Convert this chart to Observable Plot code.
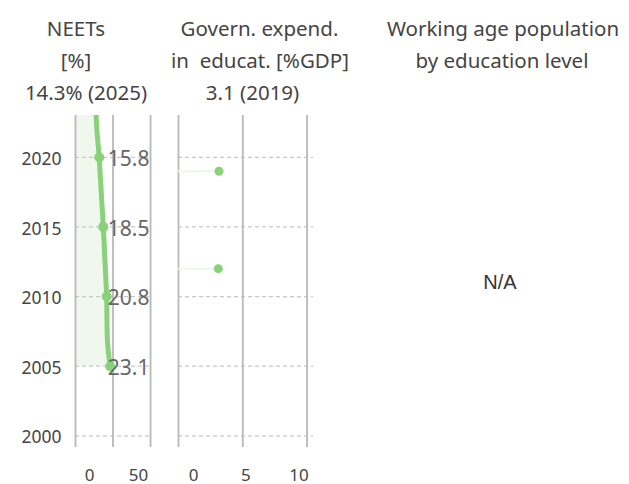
<!DOCTYPE html>
<html><head><meta charset="utf-8">
<script src="https://cdn.jsdelivr.net/npm/d3@7"></script>
<script src="https://cdn.jsdelivr.net/npm/@observablehq/plot@0.6"></script>
<style>
html,body{margin:0;padding:0;background:#fff;}
#wrap{position:relative;width:629px;height:484px;overflow:hidden;font-family:"Noto Sans",sans-serif;}
.panel{position:absolute;top:0;}
#titles{position:absolute;left:0;top:0;}
</style></head><body><div id="wrap"></div>
<script>
// ---- data ----
const neetYears  = [2005, 2006, 2007, 2008, 2009, 2010, 2011, 2012, 2013, 2014, 2015, 2016, 2017, 2018, 2019, 2020, 2021, 2022, 2023, 2024, 2025];
const neetValues = [23.1, 21.9, 21.2, 21.0, 20.9, 20.8, 20.3, 19.9, 19.4, 19.0, 18.5, 18.0, 17.4, 16.9, 16.3, 15.8, 15.0, 14.2, 13.8, 14.0, 14.3];
const neetLabelYears = [2005, 2010, 2015, 2020];
const expendYears  = [2012, 2019];
const expendValues = [3.1, 3.15];
const yearTicks = [2000, 2005, 2010, 2015, 2020];
const neetTicks = [0, 25, 50];
const neetTickLabels = [0, 50];
const expendTicks = [0, 5, 10];
const neetTitle = ["NEETs", "[%]", "14.3% (2025)"];
const expendTitle = ["Govern. expend.", "in  educat. [%GDP]", "3.1 (2019)"];
const popTitle = ["Working age population", "by education level"];
const naText = "N/A";

// ---- build ----
const green = "#88d27a";
const neet = neetYears.map((y, i) => ({year: y, value: neetValues[i]}));
const neetLabeled = neet.filter(d => neetLabelYears.includes(d.year));
const expend = expendYears.map((y, i) => ({year: y, value: expendValues[i]}));
const font = '"Noto Sans", sans-serif';
const yDomain = [1999.16, 2023.0];
const common = {height: 484, marginTop: 115, marginBottom: 37, style: {fontFamily: font, background: "transparent", overflow: "visible"}};
const dashed = {stroke: "#c8c8c8", strokeOpacity: 1, strokeDasharray: "4,3", strokeWidth: 1.3};
const vgrid = {stroke: "#b8b8b8", strokeOpacity: 1, strokeWidth: 1.8};
const xlab = {tickSize: 0, tickPadding: 21, fontSize: 17, fill: "#444", label: null};

const p1 = Plot.plot({
  ...common, width: 160, marginLeft: 75, marginRight: 8,
  x: {domain: [0, 51.3]},
  y: {domain: yDomain},
  marks: [
    Plot.areaX(neet, {y: "year", x: "value", fill: "#f0f8ee", curve: "monotone-y", clip: true}),
    Plot.gridY(yearTicks, dashed),
    Plot.gridX(neetTicks, vgrid),
    Plot.line(neet, {x: "value", y: "year", stroke: green, strokeWidth: 5, curve: "monotone-y", clip: true}),
    Plot.dot(neetLabeled, {x: "value", y: "year", r: 5, fill: green}),
    Plot.text(neetLabeled, {y: "year", text: d => d.value.toFixed(1), frameAnchor: "right", textAnchor: "end", dx: -3, dy: 2, fontSize: 21, fill: "#666"}),
    Plot.axisY(yearTicks, {tickFormat: "d", tickSize: 0, tickPadding: 14, fontSize: 17.5, fill: "#444", label: null, dy: 2}),
    Plot.axisX([neetTickLabels[0]], {...xlab, dx: 14}),
    Plot.axisX([neetTickLabels[1]], {...xlab, dx: -12})
  ]
});
p1.classList.add("panel"); p1.style.left = "0px";

const p2 = Plot.plot({
  ...common, width: 160, marginLeft: 18, marginRight: 7,
  x: {domain: [0, 10.5]},
  y: {domain: yDomain, axis: null},
  marks: [
    Plot.gridY(yearTicks, dashed),
    Plot.gridX(expendTicks, vgrid),
    Plot.ruleY(expend, {y: "year", x1: 0, x2: "value", stroke: "#eef7ec", strokeWidth: 2}),
    Plot.dot(expend, {x: "value", y: "year", r: 4.5, fill: green}),
    Plot.axisX([expendTicks[0]], {...xlab, dx: 15}),
    Plot.axisX([expendTicks[1]], {...xlab, dx: 3}),
    Plot.axisX([expendTicks[2]], {...xlab, dx: -8})
  ]
});
p2.classList.add("panel"); p2.style.left = "160px";

const wrap = document.getElementById("wrap");
wrap.appendChild(p1);
wrap.appendChild(p2);

// titles & N/A
const svg = d3.select(wrap).append("svg").attr("id", "titles").attr("width", 629).attr("height", 484)
  .style("pointer-events", "none");
const tfont = {size: 20.5, fill: "#444"};
function title(lines, centers, baselines) {
  lines.forEach((t, i) => {
    svg.append("text").attr("x", centers[i]).attr("y", baselines[i])
      .attr("text-anchor", "middle").attr("font-family", font)
      .attr("font-size", tfont.size).attr("fill", tfont.fill)
      .style("white-space", "pre").text(t);
  });
}
title(neetTitle, [76, 76, 86], [36, 68, 100]);
title(expendTitle, [259.5, 260, 252.5], [36, 68, 100]);
title(popTitle, [503, 502], [36, 68]);
svg.append("text").attr("x", 500).attr("y", 289).attr("text-anchor", "middle")
  .attr("font-family", '"Liberation Sans", Arial, sans-serif').attr("font-size", 20).attr("fill", "#333").text(naText);
</script>
</body></html>
